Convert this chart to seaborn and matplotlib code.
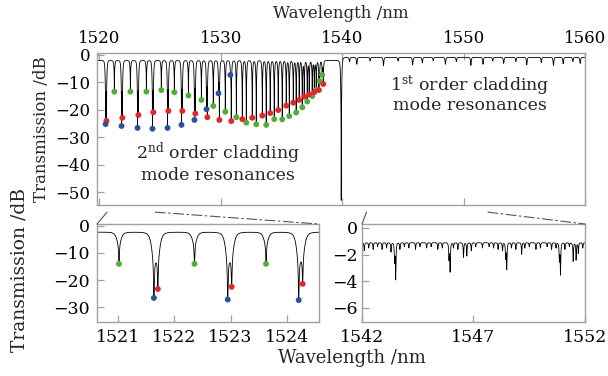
import numpy as np
import pandas as pd
import matplotlib
matplotlib.use("Agg")
import matplotlib.pyplot as plt
import seaborn as sns
from matplotlib.patches import ConnectionPatch

# ---------------- data ----------------
# top panel: 2nd-order cladding-mode resonances (dip wavelength, dip minimum in dB)
blue_wl = [1520.51, 1521.82, 1523.14, 1524.37, 1525.61, 1526.76, 1527.83, 1528.82, 1529.81, 1530.79]
blue_db = [-25.2, -25.9, -26.6, -26.9, -26.6, -25.5, -23.7, -19.8, -14.0, -7.3]
red_wl = [1520.58, 1521.89, 1523.21, 1524.44, 1525.68, 1526.83, 1527.90, 1528.89, 1529.88, 1530.86,
          1531.77, 1532.59, 1533.42, 1534.07, 1534.73, 1535.39, 1535.97, 1536.46, 1536.87, 1537.28,
          1537.70, 1538.08, 1538.44]
red_db = [-24.0, -22.9, -21.9, -20.9, -20.4, -20.4, -21.4, -22.7, -23.7, -24.1,
          -23.4, -22.9, -22.1, -21.2, -20.1, -18.5, -17.4, -16.4, -15.2, -14.4,
          -13.6, -12.8, -10.6]
green_wl = [1521.23, 1522.55, 1523.87, 1525.10, 1526.17, 1527.33, 1528.40, 1529.38, 1530.37, 1531.28,
            1532.10, 1532.92, 1533.74, 1534.40, 1535.06, 1535.64, 1536.21, 1536.71, 1537.12, 1537.53,
            1537.86, 1538.13, 1538.35]
green_db = [-13.4, -13.4, -13.4, -12.8, -13.6, -14.8, -16.4, -18.6, -20.7, -22.7,
            -24.7, -25.3, -25.5, -23.4, -23.5, -22.3, -21.0, -19.1, -17.0, -15.0,
            -12.8, -9.5, -7.3]
main_dip_wl = [1539.92]
main_dip_db = [-53.0]
# top panel: 1st-order region small dips
first_top_wl = [1540.6, 1541.2, 1542.3, 1543.4, 1544.6, 1545.8, 1546.6, 1547.5, 1548.5, 1549.4,
                1550.6, 1551.6, 1552.4, 1553.3, 1554.3, 1555.2, 1556.4, 1557.4, 1558.2, 1559.0, 1559.6]
first_top_db = [-2.5, -3.4, -2.2, -3.9, -2.2, -3.6, -2.9, -2.2, -3.4, -2.4,
                -3.8, -3.4, -2.2, -3.1, -2.4, -3.6, -2.8, -3.8, -3.2, -2.4, -3.1]

# lower-left zoom (1520.6 - 1524.6 nm)
inset_green_wl = [1521.02, 1522.36, 1523.63]
inset_green_db = [-14.0, -14.0, -14.0]
inset_blue_wl = [1521.64, 1522.95, 1524.21]
inset_blue_db = [-26.6, -27.2, -27.4]
inset_red_wl = [1521.71, 1523.02, 1524.28]
inset_red_db = [-23.3, -22.5, -21.4]

# lower-right zoom (1542 - 1552 nm)
first_wl = [1543.46, 1543.51, 1545.90, 1545.95, 1546.55, 1546.70, 1548.44, 1548.49, 1549.16,
            1550.85, 1550.90, 1551.47, 1551.60]
first_db = [-2.6, -3.86, -2.4, -3.28, -2.20, -2.10, -2.3, -3.10, -1.97, -2.5, -3.50, -2.50, -2.40]
ripple_wl = [1542.1, 1542.3, 1542.5, 1542.7, 1542.9, 1543.1, 1543.3, 1543.7, 1543.9, 1544.1,
             1544.4, 1544.6, 1544.9, 1545.1, 1545.4, 1545.6, 1546.1, 1546.3, 1546.9, 1547.1,
             1547.4, 1547.7, 1547.9, 1548.1, 1548.3, 1548.7, 1548.9, 1549.3, 1549.5, 1549.8,
             1550.0, 1550.3, 1550.5, 1550.7, 1551.1, 1551.3, 1551.7, 1551.9]
ripple_db = [-1.7, -1.5, -1.6, -1.4, -1.6, -1.5, -1.8, -1.6, -1.4, -1.5,
             -1.6, -1.4, -1.5, -1.4, -1.6, -1.5, -1.5, -1.6, -1.7, -1.4,
             -1.5, -1.4, -1.5, -1.6, -1.7, -1.5, -1.6, -1.5, -1.4, -1.6,
             -1.5, -1.4, -1.6, -1.5, -1.6, -1.4, -1.9, -1.5]

base_2nd_top = -2.0
base_1st_top = -0.9
base_inset1 = -2.3
base_inset2 = -1.1

top_xticks = [1520, 1530, 1540, 1550, 1560]
top_yticks = [0, -10, -20, -30, -40, -50]
in1_xticks = [1521, 1522, 1523, 1524]
in1_yticks = [0, -10, -20, -30]
in2_xticks = [1542, 1547, 1552]
in2_yticks = [0, -2, -4, -6]

BLUE = "#2f4f9f"
RED = "#e2262b"
GREEN = "#4fae38"
FRAME = "#a0a0a0"


# --------------- spectrum shape from the dip lists ---------------
def dip_offsets(wl, centers, minima, base, frac, w_sh, w_sp):
    c = np.asarray(centers, float)
    rel = np.asarray(minima, float) - base
    sh = frac * rel

    def shoulder(x):
        return ((1.0 / (1.0 + ((x[:, None] - c[None, :]) / w_sh) ** 2) ** 2) * sh).sum(1)

    spike_d = rel - shoulder(c)
    spike = ((1.0 / (1.0 + ((wl[:, None] - c[None, :]) / w_sp) ** 2)) * spike_d).sum(1)
    return shoulder(wl) + spike


sns.set_style("ticks")
plt.rcParams["font.family"] = ["DejaVu Serif"]
plt.rcParams["mathtext.fontset"] = "dejavuserif"

W, H = 608, 376
fig = plt.figure(figsize=(W / 100, H / 100), dpi=100)


def fx(px):
    return px / W


def fy(py):
    return 1 - py / H


ax_top = fig.add_axes([fx(97), fy(205), fx(585) - fx(97), fy(53) - fy(205)])
ax_in1 = fig.add_axes([fx(97), fy(322), fx(319) - fx(97), fy(224) - fy(322)])
ax_in2 = fig.add_axes([fx(362), fy(322), fx(585) - fx(362), fy(224) - fy(322)])

# ---- top panel spectrum
sec_wl = blue_wl + red_wl + green_wl
sec_db = blue_db + red_db + green_db
all_centers = sec_wl + main_dip_wl + first_top_wl
wl_top = np.union1d(np.arange(1519.8, 1560.0, 0.002), all_centers)
base_top = np.where(wl_top < main_dip_wl[0], base_2nd_top, base_1st_top)
db_top = (base_top
          + dip_offsets(wl_top, sec_wl + main_dip_wl, sec_db + main_dip_db, base_2nd_top, 0.35, 0.07, 0.008)
          + dip_offsets(wl_top, first_top_wl, first_top_db, base_1st_top, 0.4, 0.06, 0.03))
df_top = pd.DataFrame({"wl": wl_top, "db": db_top})
sns.lineplot(data=df_top, x="wl", y="db", ax=ax_top, color="black", lw=0.6,
             estimator=None, sort=False)
for wls, dbs, col in [(green_wl, green_db, GREEN), (red_wl, red_db, RED), (blue_wl, blue_db, BLUE)]:
    sns.scatterplot(x=wls, y=dbs, ax=ax_top, color=col, s=18, edgecolor="none", zorder=3)

# ---- lower left
in_wl = inset_green_wl + inset_blue_wl + inset_red_wl
in_db = inset_green_db + inset_blue_db + inset_red_db
wl1 = np.union1d(np.arange(1520.6, 1524.6, 0.0005), in_wl)
db1 = base_inset1 + dip_offsets(wl1, in_wl, in_db, base_inset1, 0.35, 0.07, 0.008)
sns.lineplot(data=pd.DataFrame({"wl": wl1, "db": db1}), x="wl", y="db", ax=ax_in1,
             color="black", lw=0.6, estimator=None, sort=False)
for wls, dbs, col in [(inset_green_wl, inset_green_db, GREEN), (inset_red_wl, inset_red_db, RED),
                      (inset_blue_wl, inset_blue_db, BLUE)]:
    sns.scatterplot(x=wls, y=dbs, ax=ax_in1, color=col, s=18, edgecolor="none", zorder=3)

# ---- lower right
r_wl = first_wl + ripple_wl
r_db = first_db + ripple_db
wl2 = np.union1d(np.arange(1542.0, 1552.0, 0.001), r_wl)
db2 = base_inset2 + dip_offsets(wl2, r_wl, r_db, base_inset2, 0.3, 0.04, 0.01)
sns.lineplot(data=pd.DataFrame({"wl": wl2, "db": db2}), x="wl", y="db", ax=ax_in2,
             color="black", lw=0.6, estimator=None, sort=False)

# ---- axes styling
ax_top.set_xlim(1519.8, 1560)
ax_top.set_ylim(-54.7, 0.7)
ax_in1.set_xlim(1520.63, 1524.57)
ax_in1.set_ylim(-35.5, 0.7)
ax_in2.set_xlim(1542, 1552)
ax_in2.set_ylim(-7.05, 0.3)

ax_top.set_xticks(top_xticks)
ax_top.set_yticks(top_yticks)
ax_in1.set_xticks(in1_xticks)
ax_in1.set_yticks(in1_yticks)
ax_in2.set_xticks(in2_xticks)
ax_in2.set_yticks(in2_yticks)

for ax in (ax_top, ax_in1, ax_in2):
    ax.set_xlabel("")
    ax.set_ylabel("")
    for s in ax.spines.values():
        s.set_visible(True)
        s.set_color(FRAME)
        s.set_linewidth(1.0)
    ax.tick_params(direction="in", color=FRAME, length=5, width=0.9,
                   labelsize=12, labelcolor="black", pad=5)

ax_top.tick_params(axis="x", top=True, bottom=True, labeltop=True, labelbottom=False, pad=4)
ax_in1.tick_params(axis="x", labelsize=12.5)
ax_in2.tick_params(axis="x", labelsize=12.5)
ax_in1.tick_params(axis="y", labelsize=12.5)
ax_in2.tick_params(axis="y", labelsize=12.5, pad=3)

# ---- labels
fig.text(fx(341), fy(13), "Wavelength /nm", ha="center", va="center", fontsize=12)
fig.text(fx(352), fy(358), "Wavelength /nm", ha="center", va="center", fontsize=13)
fig.text(fx(42), fy(129), "Transmission /dB", ha="center", va="center", rotation=90, fontsize=12)
fig.text(fx(20), fy(270), "Transmission /dB", ha="center", va="center", rotation=90, fontsize=13.5)

fig.text(fx(218), fy(153), r"2$^{\rm nd}$ order cladding", ha="center", va="center", fontsize=12.5)
fig.text(fx(218), fy(175), "mode resonances", ha="center", va="center", fontsize=12.5)
fig.text(fx(470), fy(85), r"1$^{\rm st}$ order cladding", ha="center", va="center", fontsize=12.5)
fig.text(fx(470), fy(106), "mode resonances", ha="center", va="center", fontsize=12.5)

# ---- zoom connector lines
ydrop = -57.3
dashdot = (0, (9, 3, 1.5, 3))
for xa, axb, xyb, ls in [(1520.63, ax_in1, (0, 1), "-"), (1524.6, ax_in1, (1, 1), dashdot),
                          (1542.0, ax_in2, (0, 1), "-"), (1552.0, ax_in2, (1, 1), dashdot)]:
    con = ConnectionPatch(xyA=(xa, ydrop), coordsA=ax_top.transData,
                          xyB=xyb, coordsB=axb.transAxes,
                          color="#555555", lw=0.8, linestyle=ls)
    fig.add_artist(con)

fig.savefig("out.png", dpi=100)
